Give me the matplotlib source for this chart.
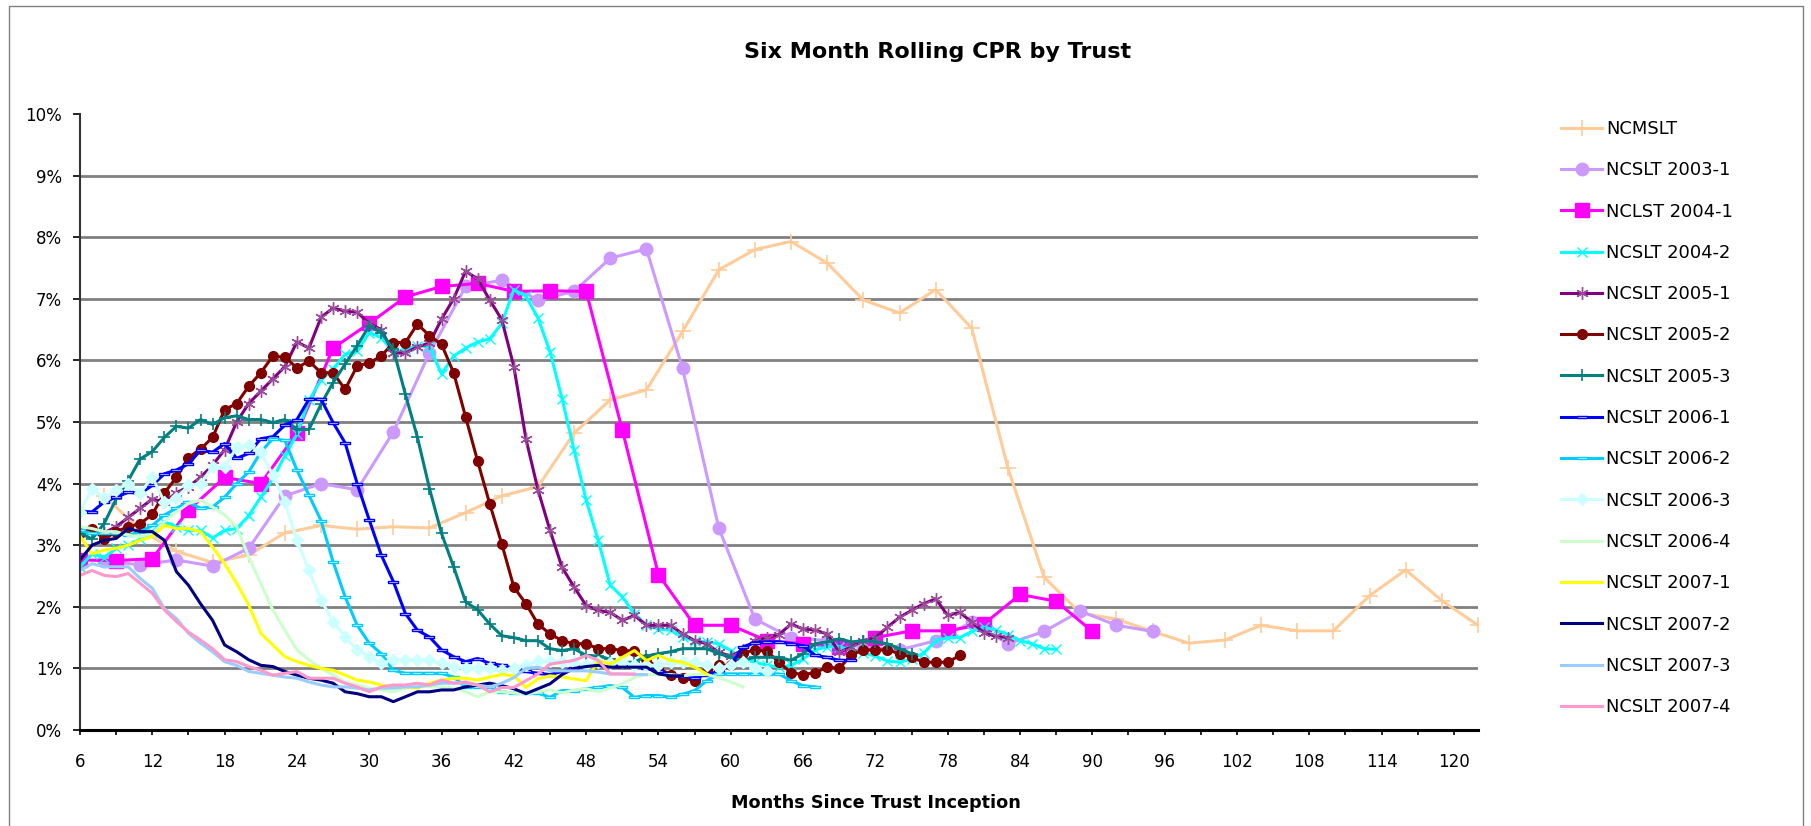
import numpy as np
import matplotlib.pyplot as plt
from matplotlib.patches import Rectangle
from matplotlib.ticker import PercentFormatter

# --- data (six month rolling CPR, in %) ---
ncmslt_months = np.arange(8, 123, 3)
ncmslt = [3.8, 3.25, 2.9, 2.72, 2.84, 3.2, 3.32, 3.26, 3.3, 3.28,
          3.53, 3.8, 3.95, 4.82, 5.36, 5.52, 6.47, 7.47, 7.8, 7.93,
          7.58, 6.98, 6.77, 7.15, 6.52, 4.25, 2.48, 1.9, 1.8, 1.6,
          1.41, 1.46, 1.7, 1.61, 1.61, 2.18, 2.6, 2.1, 1.7]

t2003_1_months = np.arange(8, 96, 3)
t2003_1 = [2.75, 2.68, 2.76, 2.66, 2.95, 3.8, 4.0, 3.9, 4.84, 6.12,
           7.2, 7.3, 6.98, 7.12, 7.66, 7.81, 5.87, 3.28, 1.8, 1.5,
           1.45, 1.35, 1.3, 1.45, 1.75, 1.4, 1.6, 1.93, 1.7, 1.6]

t2004_1_months = np.arange(6, 91, 3)
t2004_1 = [2.76, 2.75, 2.78, 3.57, 4.1, 4.0, 4.82, 6.2, 6.6, 7.03,
           7.2, 7.25, 7.12, 7.13, 7.12, 4.87, 2.52, 1.7, 1.7, 1.45,
           1.4, 1.35, 1.5, 1.61, 1.61, 1.72, 2.2, 2.09, 1.6]

t2004_2 = [2.65, 2.86, 2.8, 2.95, 3.0, 3.1, 3.22, 3.38, 3.3, 3.24,
           3.24, 3.12, 3.24, 3.27, 3.48, 3.78, 4.08, 4.45, 4.8, 5.35,
           5.68, 5.86, 6.1, 6.15, 6.45, 6.37, 6.13, 6.18, 6.24, 6.22,
           5.78, 6.07, 6.2, 6.3, 6.35, 6.6, 7.15, 7.04, 6.69, 6.14,
           5.38, 4.54, 3.73, 3.08, 2.35, 2.16, 1.89, 1.7, 1.64, 1.62,
           1.51, 1.45, 1.43, 1.4, 1.29, 1.15, 1.1, 1.05, 1.02, 1.05,
           1.15, 1.3, 1.35, 1.35, 1.3, 1.25, 1.2, 1.12, 1.1, 1.15,
           1.25, 1.45, 1.5, 1.5, 1.6, 1.67, 1.62, 1.55, 1.45, 1.4,
           1.32, 1.31]
t2004_2_months = np.arange(6, 6 + len(t2004_2))

t2005_1 = [3.2, 3.3, 3.45, 3.6, 3.75, 3.7, 3.85, 3.95, 4.1, 4.3,
           4.55, 5.0, 5.3, 5.5, 5.7, 5.9, 6.3, 6.2, 6.7, 6.85,
           6.8, 6.78, 6.6, 6.5, 6.12, 6.12, 6.22, 6.28, 6.67, 7.0,
           7.45, 7.32, 6.98, 6.66, 5.9, 4.73, 3.9, 3.24, 2.64, 2.32,
           2.02, 1.94, 1.91, 1.78, 1.86, 1.7, 1.7, 1.7, 1.56, 1.45,
           1.4, 1.26, 1.2, 1.3, 1.45, 1.5, 1.55, 1.72, 1.64, 1.62,
           1.56, 1.26, 1.35, 1.45, 1.5, 1.67, 1.83, 1.94, 2.05, 2.13,
           1.86, 1.91, 1.75, 1.58, 1.52, 1.5]
t2005_1_months = np.arange(8, 8 + len(t2005_1))

t2005_2 = [3.2, 3.27, 3.1, 3.22, 3.3, 3.35, 3.5, 3.85, 4.1, 4.42,
           4.56, 4.75, 5.2, 5.3, 5.58, 5.8, 6.07, 6.05, 5.88, 5.99,
           5.8, 5.8, 5.53, 5.91, 5.96, 6.07, 6.29, 6.29, 6.59, 6.4,
           6.26, 5.8, 5.08, 4.36, 3.67, 3.02, 2.32, 2.05, 1.72, 1.56,
           1.45, 1.4, 1.4, 1.32, 1.32, 1.29, 1.28, 1.15, 1.0, 0.9,
           0.85, 0.8, 0.95, 1.05, 1.05, 1.25, 1.3, 1.28, 1.1, 0.93,
           0.9, 0.93, 1.02, 1.0, 1.22, 1.3, 1.3, 1.3, 1.24, 1.18,
           1.1, 1.1, 1.1, 1.21]
t2005_2_months = np.arange(6, 6 + len(t2005_2))

t2005_3 = [3.2, 3.1, 3.35, 3.75, 4.05, 4.4, 4.52, 4.75, 4.93, 4.9,
           5.04, 4.96, 5.07, 5.1, 5.04, 5.04, 4.99, 5.04, 4.88, 4.88,
           5.29, 5.64, 5.94, 6.24, 6.56, 6.45, 6.18, 5.45, 4.75, 3.92,
           3.19, 2.65, 2.08, 1.95, 1.72, 1.53, 1.5, 1.45, 1.45, 1.32,
           1.29, 1.32, 1.21, 1.2, 1.15, 1.1, 1.1, 1.2, 1.24, 1.27,
           1.32, 1.32, 1.32, 1.24, 1.18, 1.13, 1.18, 1.18, 1.18, 1.13,
           1.24, 1.4, 1.43, 1.48, 1.43, 1.45, 1.43, 1.4, 1.32, 1.24]
t2005_3_months = np.arange(6, 6 + len(t2005_3))

t2006_1 = [3.55, 3.54, 3.7, 3.78, 3.86, 3.84, 3.97, 4.16, 4.22, 4.32,
           4.54, 4.51, 4.65, 4.41, 4.49, 4.73, 4.76, 4.95, 5.04, 5.37,
           5.37, 4.99, 4.66, 4.0, 3.41, 2.84, 2.41, 1.89, 1.62, 1.51,
           1.3, 1.19, 1.11, 1.16, 1.08, 1.05, 1.0, 0.95, 0.92, 0.9,
           0.95, 1.0, 1.05, 1.08, 1.05, 1.05, 1.05, 1.0, 0.95, 0.9,
           0.88, 0.85, 0.9, 0.95, 1.05, 1.35, 1.42, 1.43, 1.43, 1.4,
           1.37, 1.21, 1.18, 1.13, 1.13]
t2006_1_months = np.arange(6, 6 + len(t2006_1))

t2006_2 = [3.24, 3.19, 3.19, 3.19, 3.16, 3.22, 3.32, 3.49, 3.6, 3.7,
           3.6, 3.62, 3.78, 4.0, 4.19, 4.51, 4.73, 4.7, 4.22, 3.81,
           3.4, 2.73, 2.16, 1.7, 1.41, 1.24, 0.97, 0.92, 0.92, 0.92,
           0.92, 0.86, 0.7, 0.7, 0.7, 0.62, 0.6, 0.6, 0.6, 0.53,
           0.64, 0.64, 0.67, 0.69, 0.72, 0.69, 0.53, 0.56, 0.56, 0.53,
           0.58, 0.64, 0.8, 0.91, 0.91, 0.91, 0.91, 0.91, 0.91, 0.8,
           0.72, 0.7]
t2006_2_months = np.arange(6, 6 + len(t2006_2))

t2006_3 = [3.54, 3.92, 3.76, 3.9, 4.0, 3.84, 4.11, 3.7, 3.76, 3.97,
           4.0, 4.27, 4.27, 4.59, 4.62, 4.51, 4.14, 3.7, 3.08, 2.59,
           2.11, 1.76, 1.51, 1.3, 1.19, 1.08, 1.14, 1.14, 1.14, 1.14,
           1.08, 1.03, 1.0, 1.0, 1.0, 0.97, 1.0, 1.05, 1.12, 1.12,
           1.1, 1.1, 1.05, 1.1, 1.08, 1.1, 1.05, 1.05, 1.05, 1.1,
           1.1, 1.1, 1.05, 1.0, 1.05, 1.1, 1.0, 0.95]
t2006_3_months = np.arange(6, 6 + len(t2006_3))

t2006_4 = [3.3, 3.27, 3.22, 3.22, 3.16, 3.14, 3.19, 3.38, 3.54, 3.68,
           3.73, 3.62, 3.49, 3.3, 2.81, 2.38, 1.95, 1.62, 1.3, 1.14,
           1.0, 0.89, 0.78, 0.73, 0.68, 0.65, 0.62, 0.68, 0.73, 0.7,
           0.7, 0.68, 0.62, 0.54, 0.62, 0.62, 0.6, 0.58, 0.62, 0.65,
           0.6, 0.65, 0.67, 0.62, 0.68, 0.75, 0.85, 0.9, 0.9, 0.9,
           0.88, 0.9, 0.9, 0.85, 0.78, 0.7]
t2006_4_months = np.arange(6, 6 + len(t2006_4))

t2007_1 = [3.15, 2.86, 2.92, 2.95, 3.0, 3.08, 3.14, 3.32, 3.27, 3.27,
           3.22, 2.97, 2.7, 2.38, 2.03, 1.57, 1.38, 1.19, 1.11, 1.05,
           1.0, 0.97, 0.89, 0.81, 0.78, 0.73, 0.7, 0.7, 0.68, 0.76,
           0.81, 0.84, 0.84, 0.81, 0.86, 0.9, 0.88, 0.69, 0.83, 0.88,
           0.86, 0.83, 0.8, 1.13, 1.07, 1.18, 1.29, 1.13, 1.21, 1.13,
           1.1, 1.02, 0.91]
t2007_1_months = np.arange(6, 6 + len(t2007_1))

t2007_2 = [2.76, 3.0, 3.08, 3.11, 3.27, 3.22, 3.22, 3.08, 2.57, 2.35,
           2.05, 1.78, 1.38, 1.27, 1.14, 1.05, 1.03, 0.95, 0.89, 0.84,
           0.81, 0.76, 0.62, 0.59, 0.54, 0.54, 0.46, 0.54, 0.62, 0.62,
           0.65, 0.65, 0.7, 0.73, 0.76, 0.72, 0.67, 0.59, 0.67, 0.75,
           0.9, 1.0, 1.03, 1.05, 1.02, 1.02, 1.02, 1.02, 0.91, 0.88,
           0.88]
t2007_2_months = np.arange(6, 6 + len(t2007_2))

t2007_3 = [2.59, 2.7, 2.65, 2.65, 2.65, 2.46, 2.3, 1.97, 1.81, 1.57,
           1.41, 1.27, 1.11, 1.05, 0.95, 0.92, 0.89, 0.86, 0.84, 0.78,
           0.73, 0.7, 0.7, 0.68, 0.65, 0.68, 0.68, 0.7, 0.7, 0.73,
           0.76, 0.76, 0.76, 0.73, 0.7, 0.76, 0.85, 1.0, 1.02, 0.96,
           0.96, 0.96, 0.96, 0.94, 0.91, 0.91, 0.9, 0.9]
t2007_3_months = np.arange(6, 6 + len(t2007_3))

t2007_4 = [2.51, 2.59, 2.51, 2.49, 2.54, 2.38, 2.22, 1.95, 1.76, 1.59,
           1.46, 1.32, 1.14, 1.11, 1.03, 0.97, 0.89, 0.92, 0.95, 0.84,
           0.84, 0.84, 0.76, 0.7, 0.62, 0.7, 0.73, 0.73, 0.76, 0.73,
           0.81, 0.76, 0.78, 0.73, 0.62, 0.69, 0.69, 0.8, 0.91, 1.07,
           1.1, 1.13, 1.21, 1.13, 0.91, 0.91, 0.91]
t2007_4_months = np.arange(6, 6 + len(t2007_4))

W, H = 1811, 826
fig = plt.figure(figsize=(W / 100, H / 100), dpi=100)
ax = fig.add_axes([80 / W, (H - 730) / H, (1478 - 80) / W, (730 - 114) / H])

dash = [(-1, -0.3), (1, -0.3), (1, 0.3), (-1, 0.3), (-1, -0.3)]
asterisk = (6, 2, 0)
lw = 2.2

ax.plot(ncmslt_months, ncmslt, color='#FFCC99', lw=lw, marker='+', ms=11, mew=1.2, label='NCMSLT')
ax.plot(t2003_1_months, t2003_1, color='#CC99FF', lw=lw, marker='o', ms=9, label='NCSLT 2003-1')
ax.plot(t2004_1_months, t2004_1, color='#FF00FF', lw=lw, marker='s', ms=9.5, label='NCLST 2004-1')
ax.plot(t2004_2_months, t2004_2, color='#00FFFF', lw=lw, marker='x', ms=7, mew=1, label='NCSLT 2004-2')
ax.plot(t2005_1_months, t2005_1, color='#800080', lw=lw, marker=asterisk, ms=9, mew=1,
        mec='#9B4D9B', label='NCSLT 2005-1')
ax.plot(t2005_2_months, t2005_2, color='#800000', lw=lw, marker='o', ms=7, label='NCSLT 2005-2')
ax.plot(t2005_3_months, t2005_3, color='#008080', lw=lw, marker='+', ms=8, mew=1.2, label='NCSLT 2005-3')
ax.plot(t2006_1_months, t2006_1, color='#0000FF', lw=lw, marker=dash, ms=7, mew=1, mfc='white',
        label='NCSLT 2006-1')
ax.plot(t2006_2_months, t2006_2, color='#00CCFF', lw=lw, marker=dash, ms=7, mew=1, mfc='white',
        label='NCSLT 2006-2')
ax.plot(t2006_3_months, t2006_3, color='#CCFFFF', lw=lw, marker='D', ms=6, label='NCSLT 2006-3')
ax.plot(t2006_4_months, t2006_4, color='#CCFFCC', lw=lw, label='NCSLT 2006-4')
ax.plot(t2007_1_months, t2007_1, color='#FFFF00', lw=lw, label='NCSLT 2007-1')
ax.plot(t2007_2_months, t2007_2, color='#000080', lw=lw, label='NCSLT 2007-2')
ax.plot(t2007_3_months, t2007_3, color='#99CCFF', lw=lw, label='NCSLT 2007-3')
ax.plot(t2007_4_months, t2007_4, color='#FF99CC', lw=lw, label='NCSLT 2007-4')

# axes
ax.set_xlim(6, 122)
ax.set_ylim(0, 10)
ax.set_yticks(range(0, 11))
ax.yaxis.set_major_formatter(PercentFormatter(100, decimals=0))
xt = np.arange(6, 121, 3)
ax.set_xticks(xt)
ax.set_xticklabels([str(m) if (m - 6) % 6 == 0 else '' for m in xt])
ax.tick_params(axis='x', direction='out', length=3.8, width=1.2, pad=12.5, labelsize=12, colors='black')
ax.tick_params(axis='y', direction='out', length=5, width=1.2, pad=8, labelsize=12, colors='black')

ax.set_axisbelow(True)
ax.grid(axis='y', color='#808080', lw=2)
ax.get_ygridlines()[-1].set_visible(False)
for s in ['top', 'right']:
    ax.spines[s].set_visible(False)
ax.spines['left'].set_color('#333333')
ax.spines['left'].set_linewidth(1.5)
ax.spines['bottom'].set_color('black')
ax.spines['bottom'].set_linewidth(2.2)

fig.text(938 / W, 1 - 52 / H, 'Six Month Rolling CPR by Trust', ha='center', va='center',
         fontsize=16, fontweight='bold')
fig.text(876 / W, 1 - 803 / H, 'Months Since Trust Inception', ha='center', va='center',
         fontsize=12.7, fontweight='bold')

ax.legend(loc='upper left', bbox_to_anchor=(1561 / W, 1 - 120 / H), bbox_transform=fig.transFigure,
          frameon=False, fontsize=12.9, handlelength=2.29, handletextpad=0.22, labelspacing=1.3,
          borderpad=0, borderaxespad=0)

# chart area border
fig.patches.append(Rectangle((9 / W, -0.05), (1803 - 9) / W, 1.05 - 6 / H, transform=fig.transFigure,
                             fill=False, ec='#808080', lw=1))

fig.savefig('out.png', dpi=100)
